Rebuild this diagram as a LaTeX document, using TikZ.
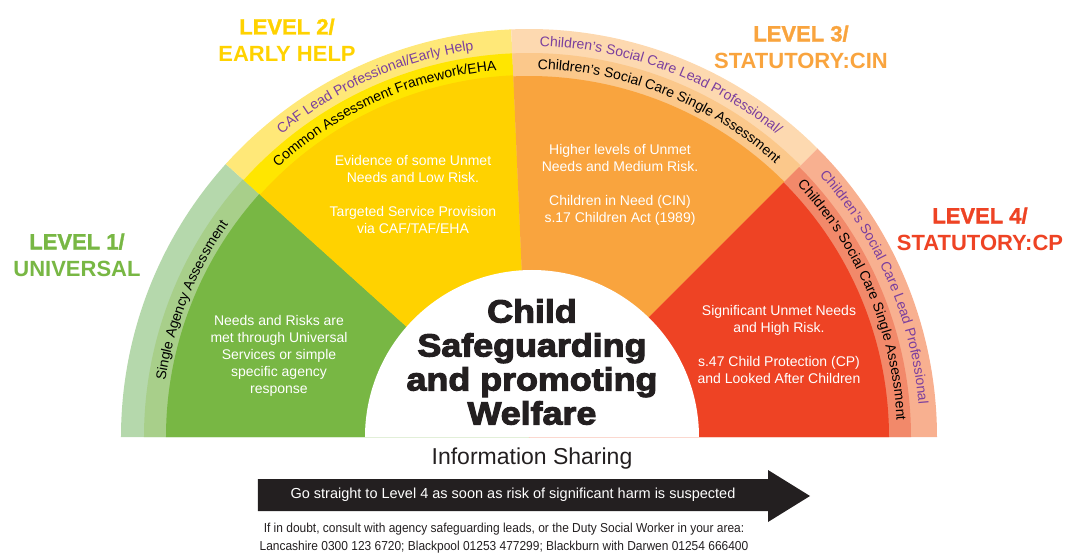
\documentclass[tikz,border=0pt]{standalone}
\usepackage{fontspec}
\setmainfont{Liberation Sans}
\newfontfamily\heavyfont[FakeBold=3.5,FakeStretch=1.12]{Liberation Sans Bold}
\newfontfamily\levelfont[FakeBold=1.5]{Liberation Sans Bold}
\newfontfamily\levelsubfont{Liberation Sans Bold}
\newfontfamily\narrowfont[FakeStretch=0.92]{Liberation Sans}
\usetikzlibrary{positioning,decorations.text}
\newcommand\bandfont{\fontsize{14}{14}\selectfont}

\definecolor{greenouter}{HTML}{B5D8AC}
\definecolor{greenmiddle}{HTML}{A8CF8A}
\definecolor{greenmain}{HTML}{78B744}
\definecolor{yellowouter}{HTML}{FFE878}
\definecolor{yellowmiddle}{HTML}{FFE600}
\definecolor{yellowmain}{HTML}{FFD200}
\definecolor{orangeouter}{HTML}{FDD9B0}
\definecolor{orangemiddle}{HTML}{FBC88B}
\definecolor{orangemain}{HTML}{F9A43E}
\definecolor{redouter}{HTML}{F8B090}
\definecolor{redmiddle}{HTML}{F2896A}
\definecolor{redmain}{HTML}{EE4324}
\definecolor{bandpurple}{HTML}{7B3F9E}
\definecolor{titleblack}{HTML}{231F20}

\begin{document}
\begin{tikzpicture}[x=1pt,y=1pt,
    bodytext/.style={text=white, align=center, font=\fontsize{14}{17}\selectfont},
    leveltext/.style={align=center, font=\fontsize{22}{27}\selectfont\levelsubfont}]
\useasboundingbox (-529,-115) rectangle (539,437);

\fill[greenouter] (0,0) -- (180:408) arc[start angle=180, end angle=138, radius=408] -- cycle;
\fill[yellowouter] (0,0) -- (138:408) arc[start angle=138, end angle=92.5, radius=408] -- cycle;
\fill[orangeouter] (0,0) -- (92.5:408) arc[start angle=92.5, end angle=45, radius=408] -- cycle;
\fill[redouter] (0,0) -- (45:408) arc[start angle=45, end angle=0, radius=408] -- cycle;
\fill[greenmiddle] (0,0) -- (180:385) arc[start angle=180, end angle=138, radius=385] -- cycle;
\fill[yellowmiddle] (0,0) -- (138:384) arc[start angle=138, end angle=92.5, radius=384] -- cycle;
\fill[orangemiddle] (0,0) -- (92.5:384) arc[start angle=92.5, end angle=45, radius=384] -- cycle;
\fill[redmiddle] (0,0) -- (45:382) arc[start angle=45, end angle=0, radius=382] -- cycle;
\fill[greenmain] (0,0) -- (180:363) arc[start angle=180, end angle=138, radius=363] -- cycle;
\fill[yellowmain] (0,0) -- (138:362) arc[start angle=138, end angle=92.5, radius=362] -- cycle;
\fill[orangemain] (0,0) -- (92.5:361) arc[start angle=92.5, end angle=45, radius=361] -- cycle;
\fill[redmain] (0,0) -- (45:360) arc[start angle=45, end angle=0, radius=360] -- cycle;
\fill[white] (-164,0) arc[start angle=180, end angle=0, radius=167] -- cycle;

\path[decorate, decoration={text along path, text align=center, text={|\bandfont|Single Agency Assessment}}]
  (183:368) arc[start angle=183, end angle=133, radius=368];
\path[decorate, decoration={text along path, text align=center, text color=bandpurple, text={|\bandfont|CAF Lead Professional/Early Help}}]
  (138.7:391) arc[start angle=138.7, end angle=88.7, radius=391];
\path[decorate, decoration={text along path, text align=center, text={|\bandfont|Common Assessment Framework/EHA}}]
  (139:368) arc[start angle=139, end angle=89, radius=368];
\path[decorate, decoration={text along path, text align=center, text color=bandpurple, text={|\bandfont|Children’s Social Care Lead Professional/}}]
  (94.5:391) arc[start angle=94.5, end angle=44.5, radius=391];
\path[decorate, decoration={text along path, text align=center, text={|\bandfont|Children’s Social Care Single Assessment}}]
  (93.3:368) arc[start angle=93.3, end angle=43.3, radius=368];
\path[decorate, decoration={text along path, text align=center, text color=bandpurple, text={|\bandfont|Children’s Social Care Lead Professional}}]
  (48.4:391) arc[start angle=48.4, end angle=-1.6, radius=391];
\path[decorate, decoration={text along path, text align=center, text={|\bandfont|Children’s Social Care Single Assessment}}]
  (47.9:368) arc[start angle=47.9, end angle=-2.1, radius=368];

\node[bodytext] (universal) at (-250,81) {Needs and Risks are\\met through Universal\\Services or simple\\specific agency\\response};
\node[bodytext] (earlyhelp) at (-116,243) {Evidence of some Unmet\\Needs and Low Risk.\\[17pt]Targeted Service Provision\\via CAF/TAF/EHA};
\node[bodytext] (cin) at (91,252) {Higher levels of Unmet\\Needs and Medium Risk.\\[17pt]Children in Need (CIN)\\s.17 Children Act (1989)};
\node[bodytext] (cp) at (250,93) {Significant Unmet Needs\\and High Risk.\\[17pt]s.47 Child Protection (CP)\\and Looked After Children};

\node[leveltext, text=greenmain] (level1) at (-452,182) {{\levelfont LEVEL 1/}\\UNIVERSAL};
\node[leveltext, text=yellowmain] (level2) at (-242,397) {{\levelfont LEVEL 2/}\\EARLY HELP};
\node[leveltext, text=orangemain] (level3) at (272,390) {{\levelfont LEVEL 3/}\\STATUTORY:CIN};
\node[leveltext, text=redmain] (level4) at (451,208) {{\levelfont LEVEL 4/}\\STATUTORY:CP};

\node[align=center, text=titleblack, font=\fontsize{32}{34}\selectfont\heavyfont] (title) at (3,75) {Child\\Safeguarding\\and promoting\\Welfare};

\node[text=titleblack, font=\fontsize{23}{23}\selectfont] (sharing) at (3,-22) {Information Sharing};
\fill[titleblack] (-271,-42) -- (239,-42) -- (239,-33) -- (281,-59) -- (239,-85) -- (239,-74) -- (-271,-74) -- cycle;
\node[text=white, font=\fontsize{14.5}{14.5}\selectfont] (gostraight) at (-16,-58) {Go straight to Level 4 as soon as risk of significant harm is suspected};
\node[align=center, text=titleblack, font=\fontsize{13}{18}\selectfont\narrowfont] (contact) at (-25,-101) {If in doubt, consult with agency safeguarding leads, or the Duty Social Worker in your area:\\Lancashire 0300 123 6720; Blackpool 01253 477299; Blackburn with Darwen 01254 666400};
\end{tikzpicture}
\end{document}
